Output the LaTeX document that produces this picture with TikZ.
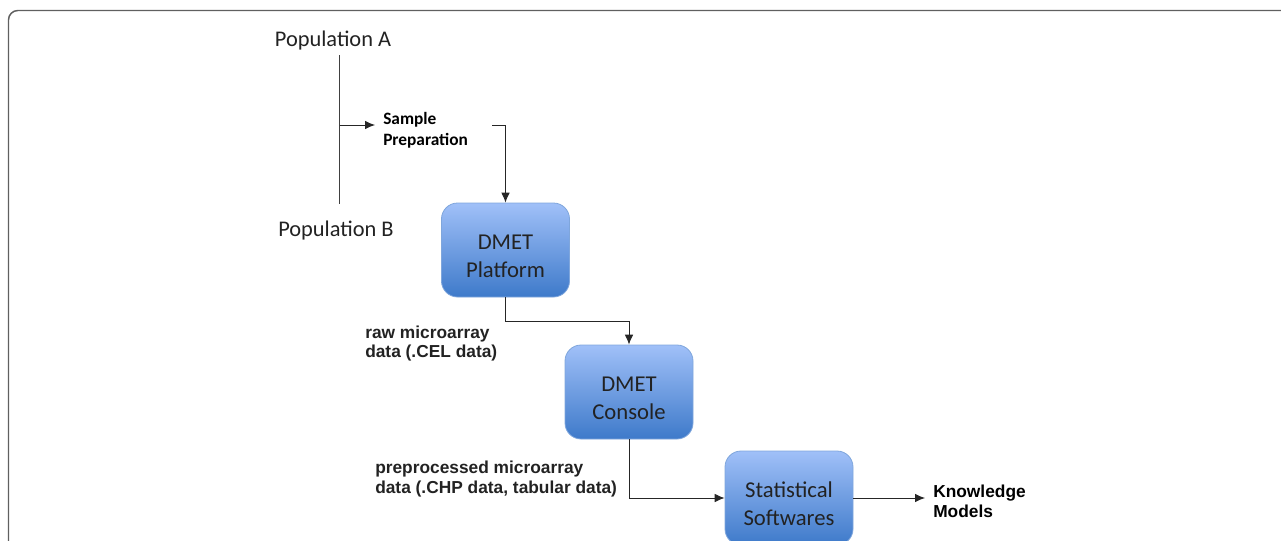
\documentclass[tikz,border=0pt]{standalone}
\usepackage{fontspec}
\setmainfont{Carlito}
\newfontfamily\labelfont{Liberation Sans}
\usetikzlibrary{arrows.meta}
\definecolor{frameline}{HTML}{606060}
\definecolor{boxtop}{HTML}{A0C0F8}
\definecolor{boxbottom}{HTML}{3E7ACA}
\definecolor{boxline}{HTML}{7FA6DC}
\definecolor{inktext}{HTML}{222222}
\newcommand{\boxtext}[1]{\raisebox{-10pt}[0pt][0pt]{\begin{tabular}{@{}c@{}}#1\end{tabular}}}
\tikzset{
  x=0.75pt,y=-0.75pt,
  stagebox/.style={draw=boxline,line width=0.6pt,rounded corners=12pt,top color=boxtop,bottom color=boxbottom,
    minimum width=96pt,minimum height=70.5pt,inner sep=0pt,align=center,text=inktext,
    font=\fontsize{17pt}{21pt}\selectfont},
  poplabel/.style={inner sep=0pt,text=inktext,font=\fontsize{16.8pt}{19pt}\selectfont},
  samplelabel/.style={inner sep=0pt,align=left,text=black,font=\fontsize{13pt}{15.8pt}\selectfont\bfseries},
  datalabel/.style={inner sep=0pt,align=left,text=inktext,font=\fontsize{13pt}{14.8pt}\selectfont\labelfont\bfseries},
  flow/.style={draw=black!85,line width=0.75pt,-{Latex[length=7.5pt,width=6.5pt]}},
  plainline/.style={draw=black!75,line width=0.8pt},
}
\begin{document}
\begin{tikzpicture}
\useasboundingbox (0,0) rectangle (1281,540);
\clip (0,0) rectangle (1281,540);
\draw[frameline,line width=1.1pt,rounded corners=7pt] (1300,10.5) -- (8.5,10.5) -- (8.5,560);

\node[poplabel,anchor=center] (popA) at (333,41) {Population A};
\node[poplabel,anchor=center] (popB) at (336,230.5) {Population B};
\node[samplelabel,anchor=west] (sample) at (383,130.5) {Sample\\Preparation};

\node[stagebox] (platform) at (505.5,250) {\boxtext{DMET\\Platform}};
\node[stagebox] (console) at (629,392) {\boxtext{DMET\\Console}};
\node[stagebox] (stats) at (789,498) {\boxtext{Statistical\\Softwares}};

\node[datalabel,anchor=west] (rawlabel) at (365,343.5) {raw microarray\\data (.CEL data)};
\node[datalabel,anchor=west] (prelabel) at (375,479) {preprocessed microarray\\data (.CHP data, tabular data)};
\node[datalabel,text=black,anchor=west] (knowledge) at (933,501) {Knowledge\\Models};

\coordinate (lineTop) at (339.5,55);
\coordinate (lineBottom) at (339.5,203.5);
\coordinate (branch) at (339.5,125);
\coordinate (branchEnd) at (375,125);
\coordinate (sampleOut) at (492,125);
\coordinate (rawTurn) at (629,321);
\coordinate (statsOutEnd) at (925,498);

\draw[plainline] (lineTop) -- (lineBottom);
\draw[flow] (branch) -- (branchEnd);
\draw[flow] (sampleOut) -| (platform.north);
\draw[flow] (platform.south) |- (rawTurn) -- (console.north);
\draw[flow] (console.south) |- (stats.west);
\draw[flow] (stats.east) -- (statsOutEnd);
\end{tikzpicture}
\end{document}
